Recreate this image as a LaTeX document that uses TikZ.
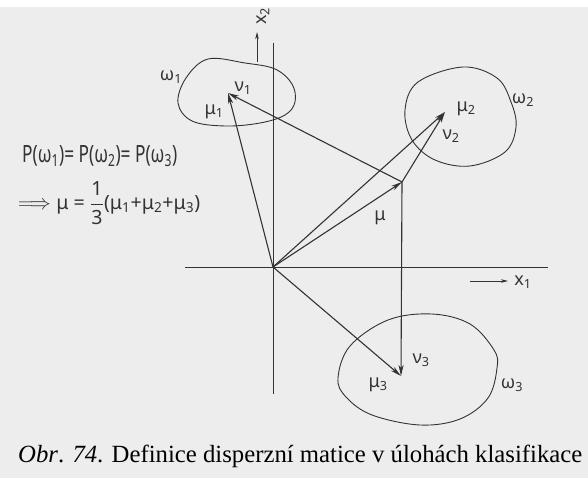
\documentclass[tikz,border=0pt]{standalone}
\usepackage{fontspec}
\usepackage{graphicx}
\setmainfont{Liberation Serif}
\newfontfamily\hand{Noto Sans}
\usetikzlibrary{arrows.meta}
\definecolor{paper}{HTML}{EDEDED}
\definecolor{ink}{HTML}{333333}
\begin{document}
\begin{tikzpicture}[x=1pt,y=-1pt,
  axis/.style={ink, line width=0.9pt},
  line/.style={ink, line width=1.1pt},
  vec/.style={line, -{Stealth[length=11pt,width=5pt,inset=3pt]}},
  small/.style={ink, line width=0.9pt, -{Stealth[length=7pt,width=3.5pt,inset=2pt]}},
  blob/.style={ink, line width=0.9pt},
  lab/.style={font=\hand\fontsize{18}{20}\selectfont, text=ink, inner sep=0pt},
  form/.style={font=\hand\fontsize{16}{18}\selectfont, text=ink, inner sep=0pt, anchor=west}]
\fill[paper] (0,0) rectangle (588,478);
\fill[white] (0,0) rectangle (588,7);
\useasboundingbox (0,0) rectangle (588,478);

% points
\coordinate (O) at (273,267);
\coordinate (M) at (402,182);
\coordinate (m1) at (228,93);
\coordinate (m2) at (445,112);
\coordinate (m3) at (401,376);
\coordinate (xt) at (273,43);
\coordinate (xb) at (273,394);
\coordinate (yl) at (185,267);
\coordinate (yr) at (548,267);

% blobs
\draw[blob] plot[smooth cycle, tension=0.6] coordinates {(208,59) (245,63) (275,69) (292,84) (295,102) (285,115) (260,123) (225,126) (192,121) (178,103) (186,78)};
\draw[blob] plot[smooth cycle, tension=0.6] coordinates {(463,67) (497,78) (511,102) (516,127) (505,152) (470,166) (435,160) (412,140) (405,110) (418,82)};
\draw[blob] plot[smooth cycle, tension=0.6] coordinates {(432,314) (470,324) (494,350) (497,368) (488,398) (460,419) (420,425) (372,415) (346,397) (338,378) (350,346) (388,320)};

% axes
\draw[axis] (xt) -- (xb);
\draw[axis] (yl) -- (yr);
\coordinate (a2s) at (257,62);
\coordinate (a2e) at (257,32);
\draw[small] (a2s) -- (a2e);
\coordinate (a1s) at (470,281);
\coordinate (a1e) at (508,281);
\draw[small] (a1s) -- (a1e);
\node[lab, rotate=90] (x2) at (263,16) {x\textsubscript{2}};
\node[lab] (x1) at (523,282) {x\textsubscript{1}};

% vectors
\draw[vec] (M) -- (m3);
\draw[vec] (O) -- (m1);
\draw[vec] (O) -- (m2);
\draw[vec] (O) -- (m3);
\draw[vec] (O) -- (M);
\draw[vec] (M) -- (m1);
\draw[vec] (M) -- (m2);

% labels
\node[lab] (w1) at (171,77) {ω\textsubscript{1}};
\node[lab] (w2) at (523,100) {ω\textsubscript{2}};
\node[lab] (w3) at (512,385) {ω\textsubscript{3}};
\node[lab] (n1) at (243,88) {ν\textsubscript{1}};
\node[lab] (u1) at (214,112) {μ\textsubscript{1}};
\node[lab] (u2) at (466,109) {μ\textsubscript{2}};
\node[lab] (n2) at (451,136) {ν\textsubscript{2}};
\node[lab] (u) at (380,218) {μ};
\node[lab] (n3) at (421,360) {ν\textsubscript{3}};
\node[lab] (u3) at (378,385) {μ\textsubscript{3}};

% formula
\node[form] (f1) at (22,156) {\resizebox*{155pt}{21pt}{P(ω\textsubscript{1})= P(ω\textsubscript{2})= P(ω\textsubscript{3})}};
\node[form] (f2) at (18,203) {\resizebox{182pt}{!}{$\Longrightarrow$\;μ = $\displaystyle\frac{\mbox{\hand 1}}{\mbox{\hand 3}}$(μ\textsubscript{1}+μ\textsubscript{2}+μ\textsubscript{3})}};

% caption
\node[inner sep=0pt, anchor=west] (cap) at (18,456) {\resizebox{564pt}{!}{\textit{Obr}. \textit{74}. Definice disperzní matice v úlohách klasifikace}};
\end{tikzpicture}
\end{document}
